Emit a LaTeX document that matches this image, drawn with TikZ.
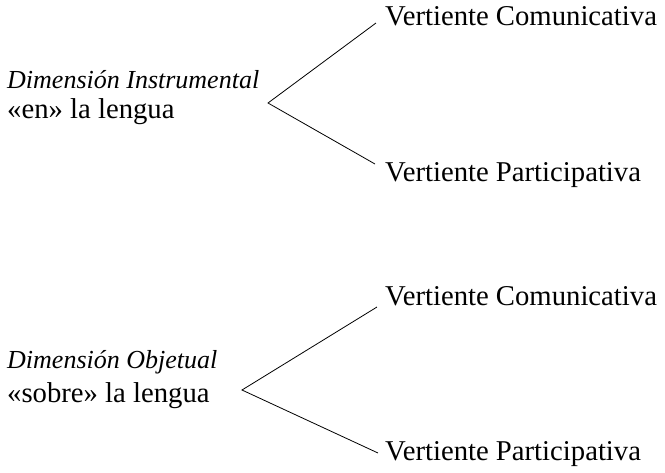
\documentclass[tikz,border=0pt]{standalone}
\usepackage{fontspec}
\setmainfont{Liberation Serif}
\begin{document}
\begin{tikzpicture}[x=1pt,y=1pt,
  lbl/.style={anchor=base west,inner sep=0pt,font=\fontsize{28.7}{32}\selectfont},
  itlbl/.style={anchor=base west,inner sep=0pt,font=\fontsize{26}{30}\selectfont\itshape},
  branch/.style={draw,line width=0.8pt}]
\useasboundingbox (0,0) rectangle (665,-472);
% upper group
\node[lbl] (vc1) at (385,-25) {Vertiente Comunicativa};
\node[lbl] (vp1) at (385,-181) {Vertiente Participativa};
\node[itlbl] (di) at (7,-88) {Dimensión Instrumental};
\node[lbl] (en) at (7,-118) {«en» la lengua};
\coordinate (a1) at (268,-103);
\coordinate (e1) at (376,-23);
\coordinate (f1) at (375,-164);
\draw[branch] (e1) -- (a1) -- (f1);
% lower group
\node[lbl] (vc2) at (385,-305) {Vertiente Comunicativa};
\node[lbl] (vp2) at (385,-460) {Vertiente Participativa};
\node[itlbl] (do) at (7,-368) {Dimensión Objetual};
\node[lbl] (so) at (7,-402) {«sobre» la lengua};
\coordinate (a2) at (242,-390);
\coordinate (e2) at (377,-307);
\coordinate (f2) at (378,-453);
\draw[branch] (e2) -- (a2) -- (f2);
\end{tikzpicture}
\end{document}
